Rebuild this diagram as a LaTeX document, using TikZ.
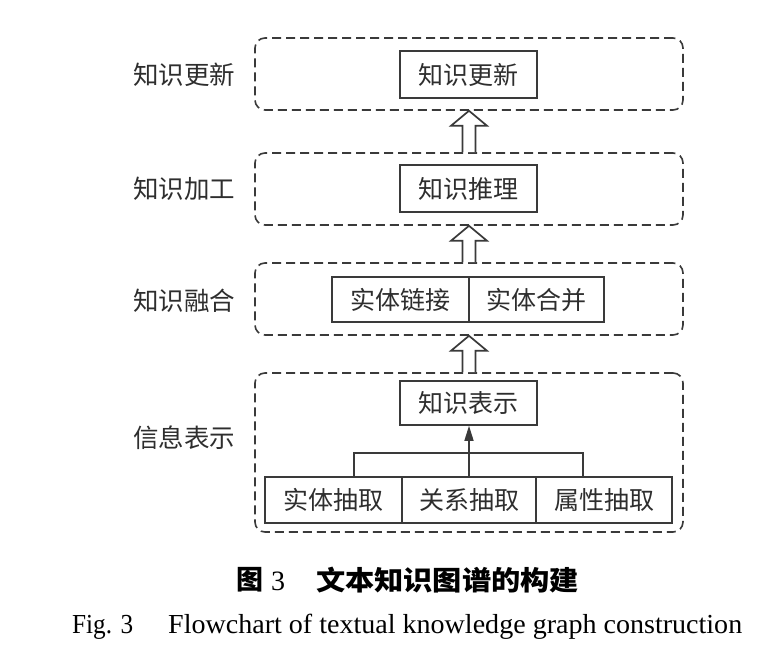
\documentclass[tikz,border=0pt]{standalone}
\usepackage{fontspec}
\usepackage{graphicx}
\setmainfont{Liberation Serif}
\newfontfamily\cjk{Noto Sans CJK SC}
\usetikzlibrary{calc,arrows.meta}
\definecolor{linec}{HTML}{3A3A3A}
\definecolor{textc}{HTML}{2E2E2E}
\tikzset{
  grp/.style={draw=linec, line width=1.6pt, dash pattern=on 9pt off 5pt, rounded corners=10pt, minimum width=428pt, inner sep=0pt},
  box/.style={draw=linec, line width=1.6pt, inner sep=0pt, font=\cjk\fontsize{25}{25}\selectfont, text=textc},
  lbl/.style={inner sep=0pt, font=\cjk\fontsize{25.5}{25.5}\selectfont, text=textc},
  hollow/.style={draw=linec, fill=white, line width=1.7pt, line join=miter},
  conn/.style={draw=linec, line width=1.5pt},
}
\begin{document}
\begin{tikzpicture}[x=1pt,y=-1pt]
\useasboundingbox[fill=white] (0,0) rectangle (779,669);
% groups
\node[grp, minimum height=72pt] (g1) at (469,74) {};
\node[grp, minimum height=72pt] (g2) at (469,189) {};
\node[grp, minimum height=72pt] (g3) at (469,299) {};
\node[grp, minimum height=159pt] (g4) at (469,452.5) {};
% left labels
\node[lbl] (l1) at (184,75) {知识更新};
\node[lbl] (l2) at (184,189) {知识加工};
\node[lbl] (l3) at (184,301) {知识融合};
\node[lbl] (l4) at (184,438) {信息表示};
% boxes
\node[box, minimum width=137pt, minimum height=47pt] (upd) at (468.5,74.5) {知识更新};
\node[box, minimum width=137pt, minimum height=47pt] (inf) at (468.5,188.5) {知识推理};
\node[box, minimum width=137pt, minimum height=45pt] (f1) at (400.5,299.5) {实体链接};
\node[box, minimum width=135pt, minimum height=45pt] (f2) at (536.5,299.5) {实体合并};
\node[box, minimum width=137pt, minimum height=44pt] (rep) at (468.5,403) {知识表示};
\node[box, minimum width=137pt, minimum height=46pt] (b1) at (333.5,500) {实体抽取};
\node[box, minimum width=134pt, minimum height=46pt] (b2) at (469,500) {关系抽取};
\node[box, minimum width=136pt, minimum height=46pt] (b3) at (604,500) {属性抽取};
% hollow arrows
\foreach \lo/\hi in {g2/g1, g3/g2, g4/g3}{
  \filldraw[hollow] ($(\lo.north)+(-6.5,0)$) -- ($(\hi.south)+(-6.5,15)$) -- ($(\hi.south)+(-18,15)$)
    -- (\hi.south) -- ($(\hi.south)+(18,15)$) -- ($(\hi.south)+(6.5,15)$) -- ($(\lo.north)+(6.5,0)$);
}
% tree connector
\draw[conn] ($(b1.north)+(20.5,0)$) -- ++(0,-23) -| ($(b3.north)+(-21,0)$);
\draw[conn,-{Triangle[length=15pt,width=9pt]}] (b2.north) -- (b2.north |- rep.south);
% captions
\node[inner sep=0pt, font=\cjk\bfseries\fontsize{27}{27}\selectfont] (c1) at (250,580) {图};
\node[inner sep=0pt, font=\fontsize{28}{28}\selectfont, anchor=base] (c2) at (278,590) {3};
\node[inner sep=0pt, font=\cjk\bfseries\fontsize{27}{27}\selectfont] (c3) at (447.5,580) {\resizebox{263pt}{\height}{文本知识图谱的构建}};
\node[inner sep=0pt, font=\fontsize{27.5}{27.5}\selectfont, anchor=base west] (e1) at (72,633) {\resizebox{61pt}{\height}{Fig. 3}};
\node[inner sep=0pt, font=\fontsize{27.5}{27.5}\selectfont, anchor=base west] (e2) at (168,633) {\resizebox{574pt}{\height}{Flowchart of textual knowledge graph construction}};
\end{tikzpicture}
\end{document}
